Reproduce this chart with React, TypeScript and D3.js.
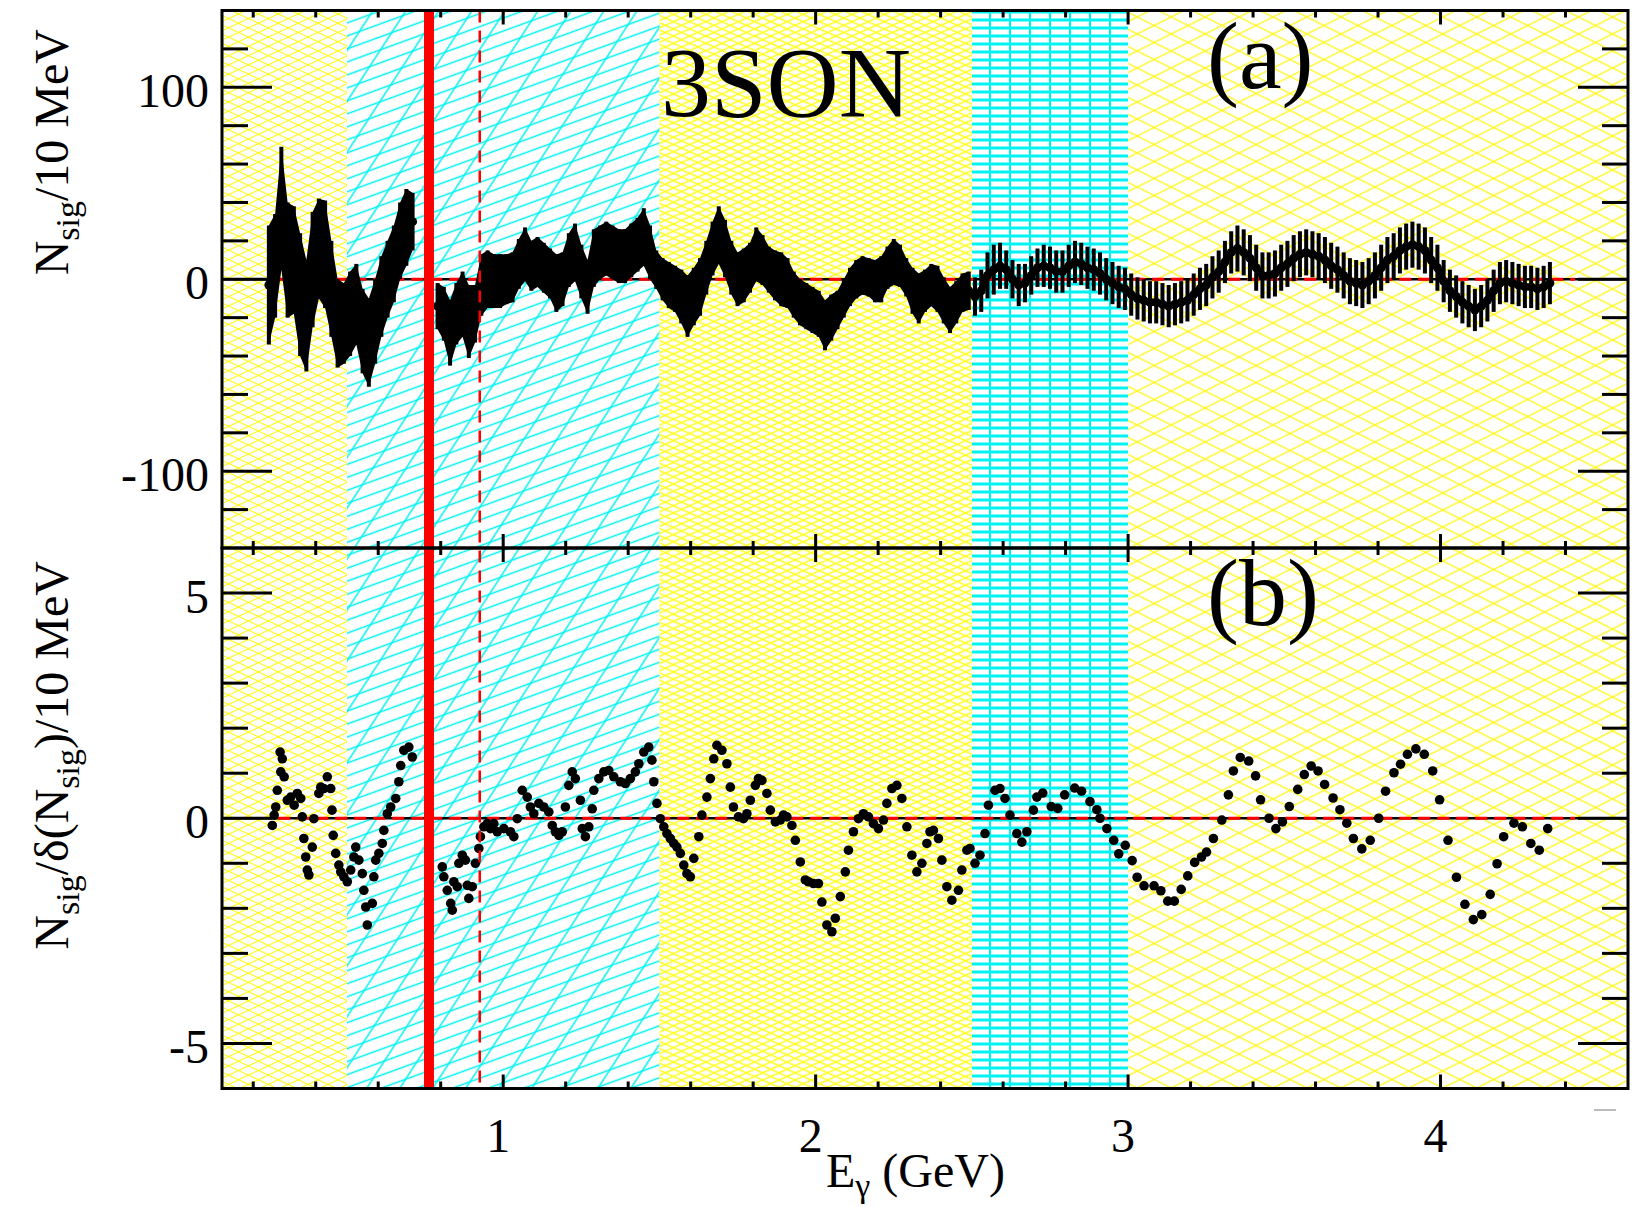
import React from 'react';
import * as d3 from 'd3';

// ---------- data: panel (a) N_sig per 10 MeV with errors ----------
const aE = [
  0.25, 0.27, 0.29, 0.31, 0.33, 0.35, 0.37, 0.39, 0.41, 0.43, 0.45, 0.47, 0.49, 0.51, 0.53, 0.55, 0.57, 0.59, 0.61, 0.63, 0.65, 0.67, 0.69, 0.71,
  0.79, 0.81, 0.83, 0.85, 0.87, 0.89, 0.91, 0.93, 0.95, 0.97,
  0.99, 1.01, 1.03, 1.05, 1.07, 1.09, 1.11, 1.13, 1.15, 1.17,
  1.19, 1.21, 1.23, 1.25, 1.27, 1.29, 1.31, 1.33, 1.35, 1.37,
  1.39, 1.41, 1.43, 1.45, 1.47, 1.49, 1.51, 1.53, 1.55, 1.57,
  1.59, 1.61, 1.63, 1.65, 1.67, 1.69, 1.71, 1.73, 1.75, 1.77,
  1.79, 1.81, 1.83, 1.85, 1.87, 1.89, 1.91, 1.93, 1.95, 1.97,
  1.99, 2.01, 2.03, 2.05, 2.07, 2.09, 2.11, 2.13, 2.15, 2.17,
  2.19, 2.21, 2.23, 2.25, 2.27, 2.29, 2.31, 2.33, 2.35, 2.37,
  2.39, 2.41, 2.43, 2.45, 2.47, 2.49, 2.51, 2.53, 2.55, 2.57,
  2.59, 2.61, 2.63, 2.65, 2.67, 2.69, 2.71, 2.73, 2.75, 2.77,
  2.79, 2.81, 2.83, 2.85, 2.87, 2.89, 2.91, 2.93, 2.95, 2.97,
  2.99, 3.01, 3.03, 3.05, 3.07, 3.09, 3.11, 3.13, 3.15, 3.17,
  3.19, 3.21, 3.23, 3.25, 3.27, 3.29, 3.31, 3.33, 3.35, 3.37,
  3.39, 3.41, 3.43, 3.45, 3.47, 3.49, 3.51, 3.53, 3.55, 3.57,
  3.59, 3.61, 3.63, 3.65, 3.67, 3.69, 3.71, 3.73, 3.75, 3.77,
  3.79, 3.81, 3.83, 3.85, 3.87, 3.89, 3.91, 3.93, 3.95, 3.97,
  3.99, 4.01, 4.03, 4.05, 4.07, 4.09, 4.11, 4.13, 4.15, 4.17,
  4.19, 4.21, 4.23, 4.25, 4.27, 4.29, 4.31, 4.33, 4.35,
];
const aN = [
  -3, 7, 37, 10, 10, -8, -19, 5, 16, 13, -5, -23, -23, -18, -13, -27, -33, -22, -9, 0, 8, 20, 27, 30,
  -14, -18, -28, -18, -13, -22, -18, -3, 0, -1,
  -1, 0, 1, 8, 13, 7, 9, 6, 3, -2,
  0, 10, 14, 4, -4, 11, 14, 16, 14, 12,
  12, 15, 18, 22, 14, 5, 0, -3, -5, -9,
  -14, -9, -4, 6, 16, 23, 16, 6, 0, 2,
  6, 13, 10, 5, 2, 0, -2, -8, -12, -14,
  -16, -18, -24, -20, -16, -10, -4, 0, 2, 1,
  -1, 0, 6, 9, 7, 1, -6, -10, -6, -3,
  -5, -11, -16, -12, -7, -6, -9, -6, 2, 5,
  7, 5, 0, -3, -2, 2, 6, 7, 6, 4,
  4, 7, 9, 8, 6, 5, 3, 0, -2, -4,
  -5, -8, -10, -11, -12, -12, -13, -14, -13, -12,
  -11, -8, -5, -3, 1, 4, 9, 14, 16, 14,
  11, 6, 2, 2, 3, 6, 8, 11, 13, 14,
  13, 12, 10, 7, 5, 2, -1, -2, -3, -1,
  2, 6, 10, 12, 15, 17, 18, 17, 15, 10,
  6, -1, -6, -9, -12, -14, -16, -14, -11, -6,
  -2, -1, -2, -3, -4, -4, -5, -4, -2,
];
const aErr = [
  31, 27, 32, 30, 28, 32, 29, 30, 26, 28, 25, 23, 21, 22, 21, 22, 23, 22, 21, 20, 20, 20, 20, 15,
  12, 14, 17, 16, 17, 19, 15, 16, 15, 14,
  14, 13, 13, 13, 14, 13, 13, 13, 13, 15,
  14, 14, 15, 14, 14, 15, 14, 14, 14, 14,
  14, 14, 14, 15, 14, 10, 11, 12, 12, 14,
  16, 15, 15, 14, 14, 15, 15, 14, 14, 14,
  13, 14, 13, 12, 13, 14, 13, 12, 12, 12,
  12, 12, 13, 12, 10, 10, 10, 10, 10, 10,
  11, 12, 11, 12, 11, 10, 12, 13, 11, 11,
  12, 12, 12, 11, 10, 10, 10, 11, 12, 13,
  12, 10, 10, 11, 10, 10, 10, 11, 11, 11,
  11, 11, 11, 11, 11, 11, 11, 11, 11, 11,
  11, 11, 11, 11, 11, 11, 11, 11, 11, 11,
  11, 11, 11, 11, 11, 11, 11, 11, 12, 12,
  12, 12, 12, 12, 12, 12, 12, 12, 12, 12,
  12, 12, 12, 12, 12, 12, 12, 12, 12, 12,
  12, 12, 12, 12, 12, 12, 12, 12, 12, 12,
  12, 11, 11, 11, 11, 11, 11, 11, 11, 11,
  11, 11, 11, 11, 11, 11, 11, 11, 11,
];

// ---------- data: panel (b) N_sig / delta(N_sig) ----------
const bE = [
  0.261, 0.267, 0.272, 0.277, 0.288, 0.293, 0.286, 0.299, 0.309, 0.320, 0.331, 0.341, 0.352, 0.357, 0.362, 0.368, 0.373, 0.378, 0.389, 0.394,
  0.410, 0.416, 0.426, 0.437, 0.448, 0.452, 0.456, 0.464, 0.474, 0.480, 0.490, 0.501, 0.512, 0.522, 0.528, 0.538, 0.549, 0.554, 0.560, 0.565,
  0.581, 0.586, 0.592, 0.602, 0.613, 0.618, 0.629, 0.640, 0.656, 0.666, 0.672, 0.682, 0.698, 0.709,
  0.805, 0.810, 0.821, 0.832, 0.837, 0.842, 0.853, 0.858, 0.869, 0.879, 0.885, 0.890, 0.901, 0.911, 0.922, 0.927, 0.938, 0.949, 0.959, 0.970,
  0.981, 1.002, 1.023, 1.034, 1.045, 1.061, 1.077, 1.087, 1.098, 1.114, 1.130, 1.146, 1.157, 1.167, 1.178, 1.189, 1.199, 1.210, 1.221, 1.231,
  1.247, 1.253, 1.263, 1.274, 1.285, 1.290, 1.306, 1.322, 1.338, 1.354, 1.375, 1.391, 1.407, 1.423, 1.434, 1.450, 1.466,
  1.476, 1.482, 1.492, 1.503, 1.514, 1.524, 1.535, 1.546, 1.556, 1.567, 1.578, 1.588, 1.599, 1.610, 1.626, 1.636, 1.652, 1.663, 1.674, 1.684,
  1.700, 1.716, 1.727, 1.737, 1.753, 1.769, 1.780, 1.791, 1.807, 1.817, 1.828, 1.844, 1.855, 1.871, 1.887, 1.897, 1.908, 1.924, 1.935, 1.951,
  1.967, 1.977, 1.993, 2.009, 2.020, 2.036, 2.052, 2.063, 2.079, 2.095, 2.105, 2.121, 2.137, 2.153, 2.169, 2.185, 2.201, 2.217, 2.228, 2.244,
  2.260, 2.276, 2.292, 2.308, 2.324, 2.340, 2.356, 2.366, 2.377, 2.393, 2.404, 2.420, 2.436, 2.457, 2.468, 2.484, 2.494, 2.510, 2.526, 2.542,
  2.553, 2.574, 2.590, 2.606, 2.622, 2.644, 2.660, 2.676, 2.697, 2.708,
  2.727, 2.754, 2.775, 2.797, 2.829, 2.851, 2.878, 2.900, 2.910, 2.932, 2.954, 2.970, 2.991, 3.013, 3.029, 3.051, 3.083, 3.105, 3.127, 3.148,
  3.170, 3.191, 3.213, 3.235, 3.251, 3.273, 3.300, 3.321, 3.337, 3.359, 3.386, 3.408, 3.424, 3.451, 3.473, 3.494, 3.516, 3.543, 3.564, 3.586,
  3.608, 3.629, 3.656, 3.678, 3.700, 3.721, 3.748, 3.775, 3.802, 3.824, 3.851, 3.872, 3.894, 3.921, 3.948, 3.975, 3.997, 4.024, 4.051, 4.078,
  4.105, 4.132, 4.159, 4.181, 4.202, 4.235, 4.262, 4.289, 4.316, 4.343,
];
const bR = [
  -0.16, 0.07, 0.25, 0.62, 1.03, 1.32, 1.47, 0.92, 0.40, 0.47, 0.29, 0.55, 0.44, 0.03, -0.45, -0.86, -1.15, -1.26, -0.64, -0.01,
  0.55, 0.69, 0.66, 0.92, 0.66, 0.18, -0.38, -0.78, -1.04, -1.19, -1.30, -1.41, -1.15, -0.86, -0.64, -0.93, -1.23, -1.60, -1.97, -2.37,
  -1.89, -1.30, -0.93, -0.78, -0.56, -0.27, 0.10, 0.25, 0.44, 0.81, 1.17, 1.51, 1.58, 1.36,
  -1.08, -1.30, -1.60, -1.89, -2.04, -1.41, -1.52, -1.00, -0.82, -0.93, -1.49, -1.78, -1.52, -1.00, -0.67, -0.41, -0.19, -0.12, -0.23, -0.12,
  -0.30, -0.23, -0.30, -0.41, -0.01, 0.62, 0.47, 0.25, 0.10, 0.33, 0.25, 0.14, -0.16, -0.30, -0.38, -0.30, 0.25, 0.73, 1.03, 0.88,
  0.40, -0.23, -0.41, -0.19, 0.21, 0.62, 0.88, 1.03, 1.06, 0.92, 0.81, 0.77, 0.88, 1.03, 1.21, 1.47, 1.58,
  1.29, 0.81, 0.33, -0.01, -0.19, -0.34, -0.45, -0.56, -0.64, -0.78, -1.04, -1.23, -1.30, -0.89, -0.41, 0.07, 0.47, 0.88, 1.32, 1.62,
  1.51, 1.21, 0.69, 0.25, 0.03, -0.01, 0.10, 0.40, 0.73, 0.88, 0.84, 0.55, 0.18, -0.08, -0.04, 0.07, 0.03, -0.16, -0.49, -0.97,
  -1.37, -1.41, -1.45, -1.45, -1.86, -2.37, -2.52, -2.22, -1.74, -1.19, -0.71, -0.30, -0.01, 0.10, 0.03, -0.12, -0.23, -0.04, 0.33, 0.66,
  0.73, 0.44, -0.19, -0.82, -1.19, -1.00, -0.56, -0.30, -0.27, -0.45, -0.93, -1.52, -1.82, -1.60, -1.15, -0.71, -0.67, -1.00, -0.82, -0.34,
  0.29, 0.62, 0.66, 0.44, 0.07, -0.34, -0.53, -0.30, 0.18, 0.47,
  0.56, 0.26, 0.22, 0.52, 0.67, 0.60, 0.37, 0.19, 0.00, -0.23, -0.49, -0.79, -0.60, -0.94, -1.31, -1.50, -1.50, -1.61, -1.84, -1.84,
  -1.58, -1.28, -0.98, -0.86, -0.75, -0.45, -0.04, 0.52, 1.05, 1.35, 1.27, 0.94, 0.41, 0.00, -0.23, -0.08, 0.26, 0.64, 0.97, 1.16,
  1.05, 0.75, 0.45, 0.19, -0.11, -0.45, -0.68, -0.49, 0.00, 0.60, 1.01, 1.20, 1.42, 1.54, 1.42, 1.05, 0.41, -0.49, -1.31, -1.91,
  -2.25, -2.14, -1.69, -1.01, -0.41, -0.11, -0.19, -0.56, -0.71, -0.23,
];

// ---------- axes, regions, reference lines ----------
const xMajor = [1, 2, 3, 4];
const xMajorLabels = ['1', '2', '3', '4'];
const xMinor = [0.2, 0.4, 0.6, 0.8, 1.2, 1.4, 1.6, 1.8, 2.2, 2.4, 2.6, 2.8, 3.2, 3.4, 3.6, 3.8, 4.2, 4.4];
const yMajorA = [-100, 0, 100];
const yMajorALabels = ['-100', '0', '100'];
const yMinorA = [-120, -80, -60, -40, -20, 20, 40, 60, 80, 120];
const yMajorB = [-5, 0, 5];
const yMajorBLabels = ['-5', '0', '5'];
const yMinorB = [-4, -3, -2, -1, 1, 2, 3, 4];
const regionStart = [0.1, 0.5, 1.5, 2.5, 3.0];
const regionEnd = [0.5, 1.5, 2.5, 3.0, 4.6];
const regionPatterns = [['yA1', 'yA2'], ['cA1', 'cA2'], ['yB1', 'yB2'], ['cGrid'], ['yC1', 'yC2']];
const fitRange = [0.28, 4.43];
const solidLineE = 0.7625;
const dashedLineE = 0.925;
const bandUpTo = 2.5;

// ---------- layout ----------
const LEFT = 222, RIGHT = 1628, TOP = 10.5, MID = 548, BOTTOM = 1088.5;
const x = d3.scaleLinear().domain([0.1, 4.6]).range([LEFT, RIGHT]);
const yA = d3.scaleLinear().domain([-140, 140]).range([MID, TOP]);
const yB = d3.scaleLinear().domain([-6, 6]).range([BOTTOM, MID]);

const YELLOW = '#fff712';
const YELLOW_DENSE = '#ffff1a';
const CYAN = '#00f2f2';
const FONT = '"Liberation Serif", "Times New Roman", serif';

function LinePattern({ id, angle, spacing, color, width }: any) {
  return (
    <pattern id={id} patternUnits="userSpaceOnUse" width={10} height={spacing} patternTransform={`rotate(${angle})`}>
      <line x1={0} x2={10} y1={spacing / 2} y2={spacing / 2} stroke={color} strokeWidth={width} />
    </pattern>
  );
}

function Panel({ y0, y1, yScale, yMajor, yMajorLabels, yMinor }: any) {
  return (
    <g>
      {regionStart.map((s, i) => (
        <g key={i}>
          {regionPatterns[i].map((p) => (
            <rect key={p} x={x(s)} y={y0} width={x(regionEnd[i]) - x(s)} height={y1 - y0} fill={`url(#${p})`} />
          ))}
        </g>
      ))}
      <line x1={LEFT} x2={RIGHT} y1={yScale(0)} y2={yScale(0)} stroke="#000" strokeWidth={2.5} />
      <line x1={x(fitRange[0])} x2={x(fitRange[1])} y1={yScale(0)} y2={yScale(0)} stroke="#ff0000" strokeWidth={3} strokeDasharray="12 7" />
      {yMajor.map((v: number, i: number) => (
        <g key={'M' + v}>
          <line x1={LEFT} x2={LEFT + 50} y1={yScale(v)} y2={yScale(v)} stroke="#000" strokeWidth={3} />
          <line x1={RIGHT - 50} x2={RIGHT} y1={yScale(v)} y2={yScale(v)} stroke="#000" strokeWidth={3} />
          <text x={209} y={yScale(v) + 20} fontSize={48} textAnchor="end" fontFamily={FONT}>{yMajorLabels[i]}</text>
        </g>
      ))}
      {yMinor.map((v: number) => (
        <g key={'m' + v}>
          <line x1={LEFT} x2={LEFT + 26} y1={yScale(v)} y2={yScale(v)} stroke="#000" strokeWidth={3} />
          <line x1={RIGHT - 26} x2={RIGHT} y1={yScale(v)} y2={yScale(v)} stroke="#000" strokeWidth={3} />
        </g>
      ))}
      {xMajor.map((e) => (
        <g key={'xM' + e}>
          <line x1={x(e)} x2={x(e)} y1={y0} y2={y0 + 14} stroke="#000" strokeWidth={3} />
          <line x1={x(e)} x2={x(e)} y1={y1} y2={y1 - 14} stroke="#000" strokeWidth={3} />
        </g>
      ))}
      {xMinor.map((e) => (
        <g key={'xm' + e}>
          <line x1={x(e)} x2={x(e)} y1={y0} y2={y0 + 7} stroke="#000" strokeWidth={3} />
          <line x1={x(e)} x2={x(e)} y1={y1} y2={y1 - 7} stroke="#000" strokeWidth={3} />
        </g>
      ))}
    </g>
  );
}

export default function App() {
  const pts = aE.map((e, i) => ({ e, v: aN[i], s: aErr[i] }));
  const segs: any[][] = [];
  pts.forEach((p, i) => {
    if (i === 0 || p.e - pts[i - 1].e > 0.05) segs.push([]);
    segs[segs.length - 1].push(p);
  });
  const band = d3
    .area<any>()
    .x((d) => x(d.e))
    .y0((d) => yA(d.v - d.s))
    .y1((d) => yA(d.v + d.s));
  const centre = d3
    .line<any>()
    .x((d) => x(d.e))
    .y((d) => yA(d.v));

  return (
    <svg width={1646} height={1207} style={{ position: 'absolute', left: 0, top: 0, background: '#fff' }}>
      <defs>
        <LinePattern id="yA1" angle={25} spacing={8.4} color={YELLOW} width={1.1} />
        <LinePattern id="yA2" angle={-25} spacing={8.4} color={YELLOW} width={1.1} />
        <LinePattern id="yB1" angle={24} spacing={6.6} color={YELLOW_DENSE} width={1.5} />
        <LinePattern id="yB2" angle={-24} spacing={6.6} color={YELLOW_DENSE} width={1.5} />
        <LinePattern id="yC1" angle={26.6} spacing={15.2} color={YELLOW} width={1.3} />
        <LinePattern id="yC2" angle={-26.6} spacing={15.2} color={YELLOW} width={1.3} />
        <LinePattern id="cA1" angle={-20} spacing={12.2} color={CYAN} width={1.5} />
        <LinePattern id="cA2" angle={-57} spacing={27.7} color={CYAN} width={1.5} />
        <pattern id="cGrid" patternUnits="userSpaceOnUse" width={20} height={8}>
          <line x1={0} x2={20} y1={4} y2={4} stroke={CYAN} strokeWidth={3} />
          <line x1={10} x2={10} y1={0} y2={8} stroke={CYAN} strokeWidth={2} />
        </pattern>
      </defs>
      <rect x={0} y={0} width={1646} height={1207} fill="#fff" />

      <Panel y0={TOP} y1={MID} yScale={yA} yMajor={yMajorA} yMajorLabels={yMajorALabels} yMinor={yMinorA} />
      <Panel y0={MID} y1={BOTTOM} yScale={yB} yMajor={yMajorB} yMajorLabels={yMajorBLabels} yMinor={yMinorB} />

      {/* panel (a) data */}
      <g>
        {segs.map((sg, i) => (
          <path key={i} d={band(sg.filter((p) => p.e < bandUpTo)) || ''} fill="#000" />
        ))}
        {pts.map((p, i) => (
          <line key={'eb' + i} x1={x(p.e)} x2={x(p.e)} y1={yA(p.v - p.s)} y2={yA(p.v + p.s)} stroke="#000" strokeWidth={4} />
        ))}
        {segs.map((sg, i) => (
          <path key={'c' + i} d={centre(sg) || ''} fill="none" stroke="#000" strokeWidth={7} />
        ))}
        {pts.map((p, i) => (
          <circle key={'mk' + i} cx={x(p.e)} cy={yA(p.v)} r={4.5} fill="#000" />
        ))}
      </g>

      {/* panel (b) data */}
      <g>
        {bE.map((e, i) => (
          <circle key={i} cx={x(e)} cy={yB(bR[i])} r={4.8} fill="#000" />
        ))}
      </g>

      {/* red reference lines */}
      <line x1={x(solidLineE)} x2={x(solidLineE)} y1={TOP} y2={BOTTOM} stroke="#ff0000" strokeWidth={10} />
      <line x1={x(dashedLineE)} x2={x(dashedLineE)} y1={TOP} y2={BOTTOM} stroke="#ff0000" strokeWidth={2.5} strokeDasharray="12 8" />

      {/* frames */}
      <rect x={LEFT} y={TOP} width={RIGHT - LEFT} height={MID - TOP} fill="none" stroke="#000" strokeWidth={3} />
      <rect x={LEFT} y={MID} width={RIGHT - LEFT} height={BOTTOM - MID} fill="none" stroke="#000" strokeWidth={3} />

      {/* x tick labels */}
      {xMajor.map((e, i) => (
        <text key={e} x={x(e) - 5} y={1152} fontSize={48} textAnchor="middle" fontFamily={FONT}>{xMajorLabels[i]}</text>
      ))}
      <line x1={1594} x2={1616} y1={1110} y2={1110} stroke="#bbb" strokeWidth={2} />

      {/* x title */}
      <text x={826} y={1187} fontSize={48} fontFamily={FONT}>
        E<tspan dy={10} fontSize={34}>γ</tspan>
        <tspan dy={-10} fontSize={48}> (GeV)</tspan>
      </text>

      {/* y titles */}
      <text transform="translate(68,29) rotate(-90)" fontSize={48} textAnchor="end" fontFamily={FONT}>
        N<tspan dy={11} fontSize={34}>sig</tspan>
        <tspan dy={-11}>/10 MeV</tspan>
      </text>
      <text transform="translate(68,561) rotate(-90)" fontSize={48} textAnchor="end" fontFamily={FONT}>
        N<tspan dy={11} fontSize={34}>sig</tspan>
        <tspan dy={-11}>/δ(N</tspan>
        <tspan dy={11} fontSize={34}>sig</tspan>
        <tspan dy={-11}>)/10 MeV</tspan>
      </text>

      {/* annotations */}
      <text x={661} y={116} fontSize={100} fontFamily={FONT}>3SON</text>
      <text x={1207} y={88} fontSize={96} fontFamily={FONT}>(a)</text>
      <text x={1207} y={625} fontSize={96} fontFamily={FONT}>(b)</text>
    </svg>
  );
}
